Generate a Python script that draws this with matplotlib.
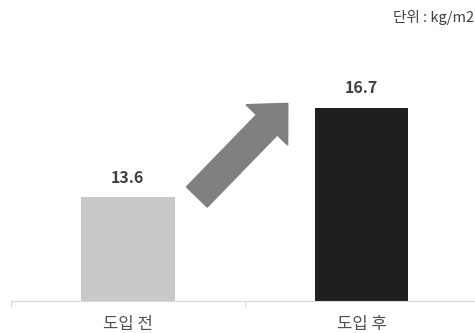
import matplotlib
matplotlib.use("Agg")
import matplotlib.pyplot as plt
import matplotlib.patches as mpatches
from matplotlib.transforms import IdentityTransform

plt.rcParams['font.family'] = ['Noto Sans CJK KR', 'DejaVu Sans']

# 데이터
categories = ["도입 전", "도입 후"]
values = [13.6, 16.7]
bar_colors = ["#c9c9c9", "#1f1f1f"]
unit_text = "단위 : kg/m2"

fig = plt.figure(figsize=(4.75, 3.33), dpi=100)
ax = fig.add_axes([11 / 475, 0.097, 467.5 / 475, 0.692])

x = list(range(len(categories)))
bars = ax.bar(x, values, width=0.40, color=bar_colors, bottom=0)

ax.set_ylim(10, 18)
ax.set_xlim(-0.5, len(categories) - 0.5)

# 막대 위 값 표시
for xi, v in zip(x, values):
    ax.annotate(f"{v:.1f}", (xi, v), xytext=(0, 14), textcoords="offset points",
                ha="center", va="center", fontsize=11.5, fontweight="bold",
                color="#404040")

# 축 스타일
for s in ["top", "right", "left"]:
    ax.spines[s].set_visible(False)
ax.spines["bottom"].set_color("#d9d9d9")
ax.set_yticks([])
ax.set_xticks([-0.5, 0.5, 1.5])
ax.set_xticklabels([])
ax.tick_params(axis="x", which="major", length=4, color="#d9d9d9")
ax.set_xticks(x, minor=True)
ax.set_xticklabels(categories, minor=True, fontsize=12, color="#505050")
ax.tick_params(axis="x", which="minor", length=0, pad=11)

# 증가 화살표 (픽셀 좌표)
fig.canvas.draw()
tail = ax.transData.transform((0.295, 13.6))
tip = ax.transData.transform((0.684, 16.85))
arrow = mpatches.FancyArrow(tail[0], tail[1], tip[0] - tail[0], tip[1] - tail[1],
                            width=29, head_width=58, head_length=30,
                            length_includes_head=True, color="#808080",
                            transform=IdentityTransform())
fig.patches.append(arrow)

fig.text(0.998, 0.948, unit_text, ha="right", va="center", fontsize=10.5,
         color="#404040")

fig.savefig("out.png", dpi=100)
